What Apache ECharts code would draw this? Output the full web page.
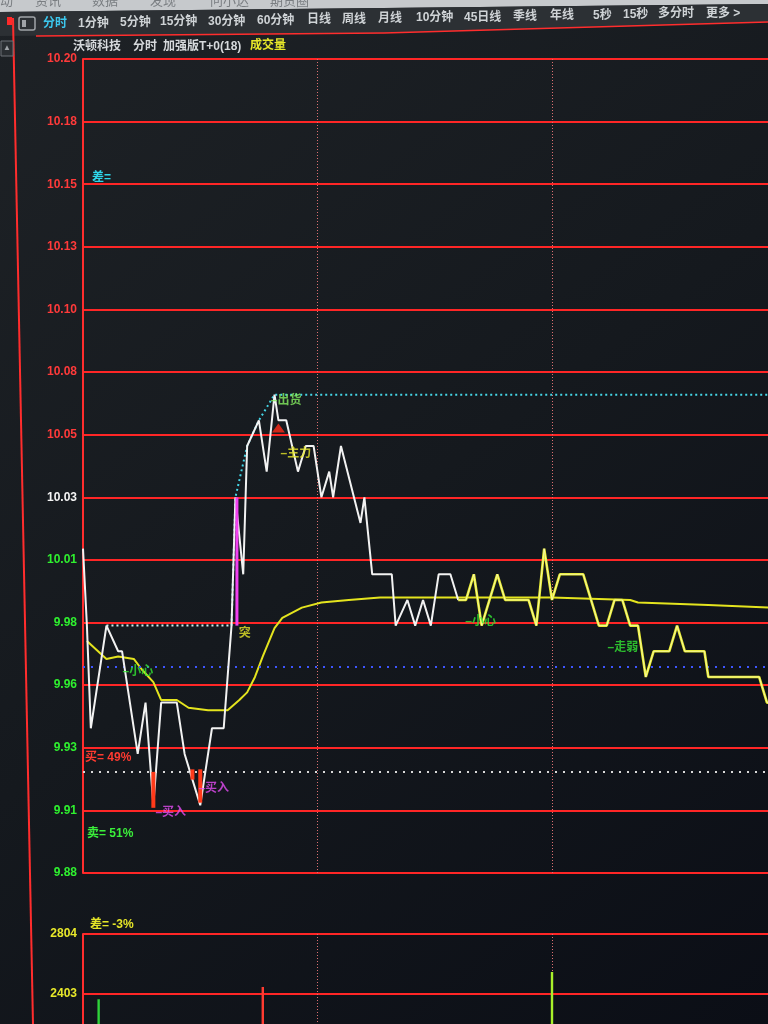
<!DOCTYPE html>
<html><head><meta charset="utf-8">
<script src="https://cdn.jsdelivr.net/npm/echarts@6/dist/echarts.min.js"></script>
<style>html,body{margin:0;padding:0;background:#15181c;}#c{width:768px;height:1024px;}</style>
</head><body><div id="c"></div>
<script>
// ---------- data ----------
const prevClose = 10.03;
const priceStep = 0.0244;
const priceTickLabels = ['9.88','9.91','9.93','9.96','9.98','10.01','10.03','10.05','10.08','10.10','10.13','10.15','10.18','10.20'];
const volumeTickLabels = ['1601','2002','2403','2804'];
const volumeStep = 401;

// [minute, price]
const priceLine = [[0,10.01],[1,9.98],[2,9.94],[6,9.98],[9,9.97],[10,9.97],[14,9.93],[16,9.95],[18,9.91],[20,9.95],[24,9.95],[26,9.93],[28,9.92],[30,9.91],[32,9.93],[33,9.94],[36,9.94],[38,9.98],[39,10.03],[41,10.00],[42,10.05],[45,10.06],[47,10.04],[49,10.07],[50,10.06],[52,10.06],[55,10.04],[57,10.05],[59,10.05],[61,10.03],[63,10.04],[64,10.03],[66,10.05],[71,10.02],[72,10.03],[74,10.00],[79,10.00],[80,9.98],[83,9.99],[85,9.98],[87,9.99],[89,9.98],[91,10.00],[94,10.00],[96,9.99],[98,9.99],[100,10.00],[102,9.98],[106,10.00],[108,9.99],[114,9.99],[116,9.98],[118,10.01],[120,9.99],[122,10.00],[128,10.00],[132,9.98],[134,9.98],[136,9.99],[138,9.99],[140,9.98],[142,9.98],[144,9.96],[146,9.97],[150,9.97],[152,9.98],[154,9.97],[159,9.97],[160,9.96],[173,9.96],[175,9.95],[176,9.95]];
const yellowFromMinute = 96;

const avgLine = [[1,9.974],[6,9.967],[9,9.968],[13,9.967],[15,9.963],[18,9.958],[20,9.951],[24,9.951],[27,9.948],[32,9.947],[37,9.947],[40,9.951],[42,9.954],[44,9.960],[46,9.968],[49,9.979],[51,9.983],[56,9.987],[61,9.989],[68,9.990],[76,9.991],[95,9.991],[120,9.991],[140,9.990],[142,9.989],[160,9.988],[176,9.987]];

const highLineEarly = [[6,9.98],[38,9.98]];
const highLineLate = [[38,9.98],[39,10.03],[42,10.05],[45,10.06],[49,10.07],[176,10.07]];

const levelLines = [9.964, 9.923];

// [minute, from price, to price]
const signalBars = [[18,9.923,9.909],[28,9.924,9.920],[30,9.924,9.911]];
const breakoutBars = [[39,9.98,10.03]];
const triangleMarks = [[50,10.057]];

const annotations = [
  {m:10, p:9.962, text:'–小心', kind:'warn'},
  {m:18.4, p:9.907, text:'–买入', kind:'buy'},
  {m:29.4, p:9.9165, text:'–买入', kind:'buy'},
  {m:39.7, p:9.977, text:'突', kind:'main'},
  {m:47.9, p:10.0677, text:'–出货', kind:'out'},
  {m:50.4, p:10.047, text:'–主力', kind:'main'},
  {m:97.7, p:9.9817, text:'–小心', kind:'warn'},
  {m:134.1, p:9.9715, text:'–走弱', kind:'warn'}
];

// [minute, volume]
const volume = [[4,2368],[46,2450],[120,2550]];

const toolbarItems = ['分时','1分钟','5分钟','15分钟','30分钟','60分钟','日线','周线','月线','10分钟','45日线','季线','年线','5秒','15秒','多分时','更多 >'];
const topMenuItems = ['动','资讯','数据','发现','问小达','期货圈'];
const titleParts = ['沃顿科技','分时','加强版T+0(18)','成交量'];
const readouts = ['差=','买= 49%','卖= 51%','差= -3%'];

// ---------- styling / layout ----------
const FONT = '"Liberation Sans", "Noto Sans CJK SC", sans-serif';
const yMin = prevClose - 6*priceStep, yMax = prevClose + 7*priceStep;
const vMax = 2804, vMin = vMax - 3*volumeStep;
const annotationColor = {warn:'#33e633', buy:'#e44cf2', main:'#e6e628', out:'#86f060'};
const volumeColors = ['#2fd23a','#ff3b30','#a8f02a'];
const levelColors = ['#3d55ff','#d8d8d8'];

const chart = echarts.init(document.getElementById('c'));

function rangeBar(color, w, dx) {
  return function(params, api) {
    const a = api.coord([api.value(0), api.value(1)]);
    const b = api.coord([api.value(0), api.value(2)]);
    return {type:'rect', shape:{x:a[0]-w/2+dx, y:Math.min(a[1],b[1]), width:w, height:Math.abs(b[1]-a[1])}, style:{fill:color}};
  };
}

const graphic = [];
graphic.push({type:'polygon', shape:{points:[[0,0],[768,0],[768,4],[0,12]]}, style:{fill:'#c6c9cc'}, z:-1});
graphic.push({type:'polygon', shape:{points:[[0,12],[768,4],[768,22],[384,33],[0,36]]}, style:{fill:'#2c3034'}, z:-1});
const topMenuX = [0,35,92,150,210,270];
topMenuItems.forEach((t,i)=>graphic.push({type:'text', x:topMenuX[i], y:-5, style:{text:t, fill:'#7a7e82', font:'13px '+FONT}}));
const toolbarX = [43,78,120,160,208,257,307,342,378,416,464,513,550,593,623,658,706];
toolbarItems.forEach((t,i)=>{
  const x = toolbarX[i];
  const y = 24 - (x-43)*0.016;
  graphic.push({type:'text', x:x, y:y, style:{text:t, fill: i===0?'#3cc8ee':'#cfd3d6', font:'bold 12px '+FONT, textVerticalAlign:'middle'}});
});
graphic.push({type:'polyline', shape:{points:[[36,36],[384,33],[768,22]]}, style:{stroke:'#ff2d2d', lineWidth:1.5}});
graphic.push({type:'rect', shape:{x:7,y:17,width:5,height:8}, style:{fill:'#ff2a2a'}});
graphic.push({type:'rect', shape:{x:19,y:17,width:16,height:13,r:2}, style:{fill:'none', stroke:'#a0a4a8', lineWidth:1.5}});
graphic.push({type:'rect', shape:{x:22,y:20,width:4,height:7}, style:{fill:'#a0a4a8'}});
graphic.push({type:'polyline', shape:{points:[[13,18],[33,1024]]}, style:{stroke:'#ff2d2d', lineWidth:2}});
graphic.push({type:'rect', shape:{x:1,y:41,width:12,height:15}, style:{fill:'#2a2e32', stroke:'#6d7176', lineWidth:1}});
graphic.push({type:'text', x:7, y:48, style:{text:'▲', fill:'#9ea2a6', font:'8px '+FONT, textAlign:'center', textVerticalAlign:'middle'}});
const titleX = [73,133,163,250];
titleParts.forEach((t,i)=>graphic.push({type:'text', x:titleX[i], y:47 - (titleX[i]-73)*0.008, style:{text:t, fill: i===3?'#e8e82a':'#d6d9dc', font:'bold 12px '+FONT, textVerticalAlign:'middle'}}));
const readoutPos = [[92,178],[85,758],[87,834],[90,925]];
const readoutColors = ['#2ed6ea','#ff3a30','#3aef3a','#e6e628'];
readouts.forEach((t,i)=>graphic.push({type:'text', x:readoutPos[i][0], y:readoutPos[i][1], style:{text:t, fill:readoutColors[i], font:'bold 12px '+FONT, textVerticalAlign:'middle'}}));

const series = [];
series.push({type:'line', name:'avg', data:avgLine, xAxisIndex:0, yAxisIndex:0, showSymbol:false, symbol:'none', lineStyle:{color:'#e4e41e', width:2}, z:3, silent:true,
  markLine:{symbol:'none', silent:true, precision:4, label:{show:false}, animation:false,
    data: levelLines.map((v,i)=>({yAxis:v, lineStyle:{color:levelColors[i], type:[2,6], width:2}}))}});
series.push({type:'line', data:highLineEarly, showSymbol:false, symbol:'none', lineStyle:{color:'#cfeef0', type:[2,3], width:2}, z:3, silent:true});
series.push({type:'line', data:highLineLate, showSymbol:false, symbol:'none', lineStyle:{color:'#45d6e6', type:[2,3], width:2}, z:3, silent:true});
series.push({type:'line', data:priceLine.filter(d=>d[0]<=yellowFromMinute), showSymbol:false, symbol:'none', lineStyle:{color:'#f2f2f2', width:2}, z:5, silent:true});
series.push({type:'line', data:priceLine.filter(d=>d[0]>=yellowFromMinute), showSymbol:false, symbol:'none', lineStyle:{color:'#e8ec2a', width:2.6}, z:5, silent:true});
series.push({type:'line', data:priceLine.filter(d=>d[0]>=yellowFromMinute), showSymbol:false, symbol:'none', lineStyle:{color:'rgba(255,255,255,0.55)', width:1}, z:6, silent:true});
series.push({type:'custom', data:signalBars, renderItem:rangeBar('#ff3a1a',4,0), encode:{x:0,y:[1,2]}, z:6, silent:true});
series.push({type:'custom', data:breakoutBars, renderItem:rangeBar('#f040f0',3,1.5), encode:{x:0,y:[1,2]}, z:6, silent:true});
series.push({type:'scatter', data:triangleMarks, symbol:'triangle', symbolSize:[13,9], itemStyle:{color:'#ff2a18'}, z:7, silent:true});
series.push({type:'scatter', symbolSize:1, itemStyle:{color:'rgba(0,0,0,0)'}, z:8, silent:true,
  data: annotations.map(a=>({value:[a.m,a.p], label:{show:true, position:'right', distance:0, formatter:a.text, color:annotationColor[a.kind], fontSize:12, fontWeight:'bold', fontFamily:FONT}}))});
series.push({type:'custom', xAxisIndex:1, yAxisIndex:1, silent:true, z:5, data:volume, encode:{x:0,y:1},
  renderItem:function(params, api){
    const a = api.coord([api.value(0), api.value(1)]);
    const b = api.coord([api.value(0), vMin]);
    return {type:'rect', shape:{x:a[0]-1.2, y:a[1], width:2.4, height:b[1]-a[1]}, style:{fill:volumeColors[params.dataIndex]}};
  }});

const xAxisBase = {type:'value', min:0, max:240, interval:60, axisLine:{show:false}, axisTick:{show:false}, axisLabel:{show:false},
  splitLine:{show:true, lineStyle:{color:'#dc7070', type:[1,2], width:1}}};

chart.setOption({
  animation:false,
  backgroundColor:{type:'linear', x:0, y:0, x2:1, y2:1, colorStops:[{offset:0,color:'#1e2226'},{offset:0.5,color:'#15191e'},{offset:1,color:'#0b0e16'}]},
  graphic: graphic,
  grid:[{left:83, right:-253, top:59, height:814, outerBoundsMode:'none', containLabel:false},
        {left:83, right:-253, top:934, height:180, outerBoundsMode:'none', containLabel:false}],
  xAxis:[Object.assign({gridIndex:0}, xAxisBase), Object.assign({gridIndex:1}, xAxisBase)],
  yAxis:[
    {gridIndex:0, type:'value', min:yMin, max:yMax, interval:priceStep,
     axisLine:{show:true, lineStyle:{color:'#ff2d2d', width:2}}, axisTick:{show:false},
     axisLabel:{fontFamily:FONT, fontWeight:'bold', fontSize:12, margin:6,
       formatter:v=>priceTickLabels[Math.round((v-yMin)/priceStep)] || '',
       color:(v)=>{const i=Math.round((v-yMin)/priceStep); return i>6?'#ff3a3a':(i===6?'#f4f4f4':'#2ff02f');}},
     splitLine:{show:true, lineStyle:{color:'#ff2626', width:2}}},
    {gridIndex:1, type:'value', min:vMin, max:vMax, interval:volumeStep,
     axisLine:{show:true, lineStyle:{color:'#ff2d2d', width:2}}, axisTick:{show:false},
     axisLabel:{fontFamily:FONT, fontWeight:'bold', fontSize:12, margin:6, color:'#e8e82a',
       formatter:v=>volumeTickLabels[Math.round((v-vMin)/volumeStep)] || ''},
     splitLine:{show:true, lineStyle:{color:'#ff2626', width:2}}}
  ],
  series: series
});
</script></body></html>
